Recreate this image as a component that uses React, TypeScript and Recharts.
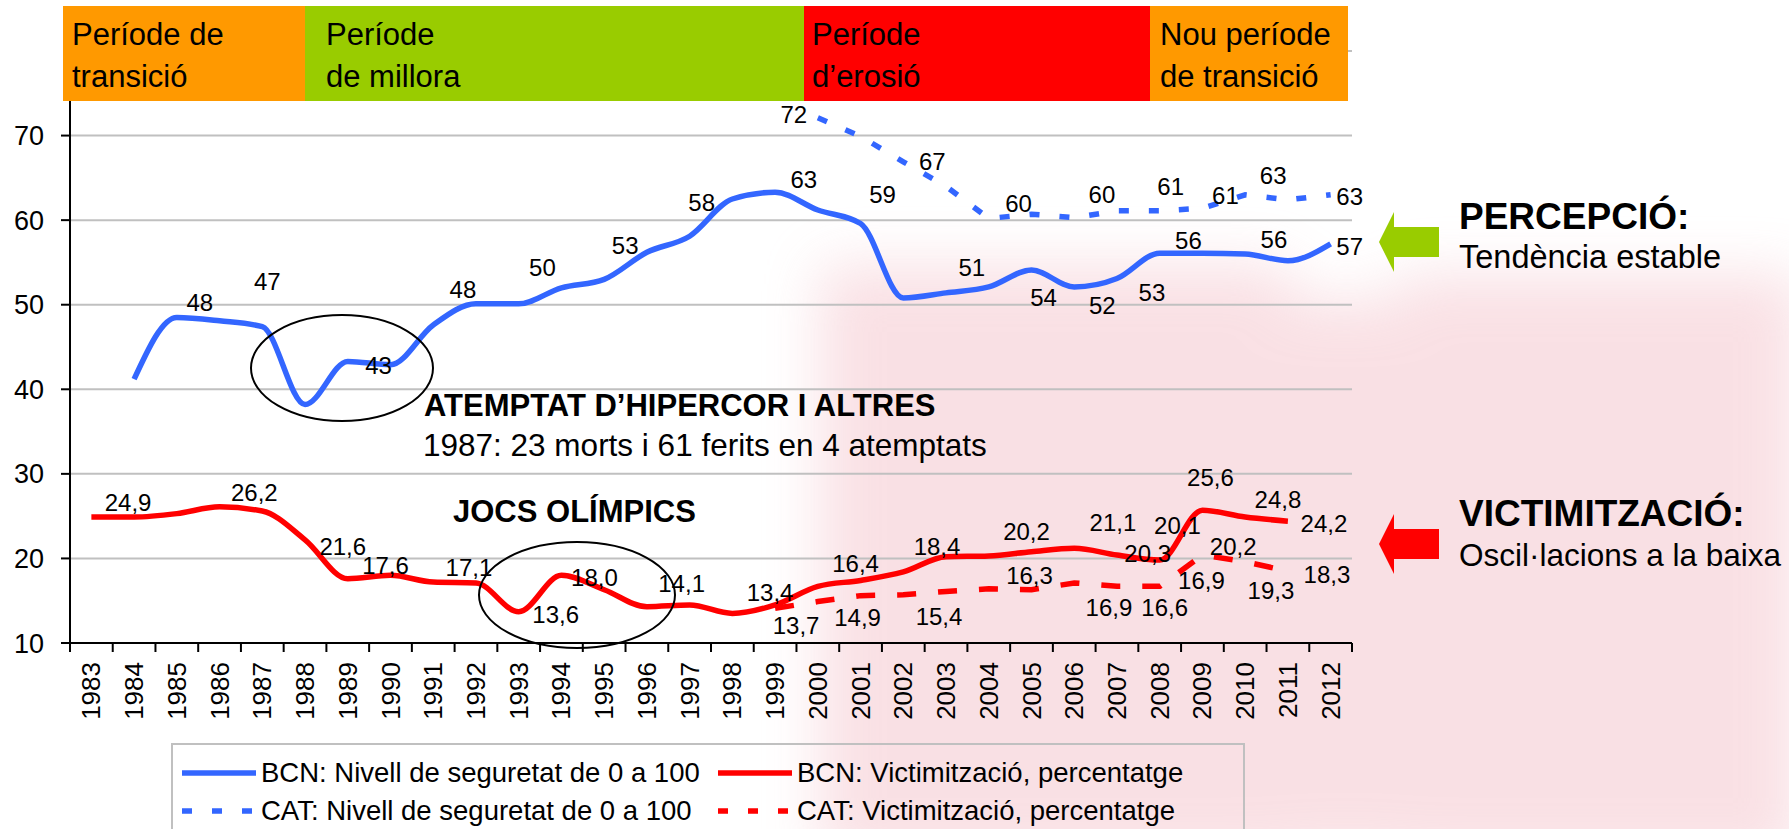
import React from 'react';
import { LineChart, Line, XAxis, YAxis, CartesianGrid } from 'recharts';

// Anys de l'enquesta
const YEARS = [
  1983, 1984, 1985, 1986, 1987, 1988, 1989, 1990, 1991, 1992,
  1993, 1994, 1995, 1996, 1997, 1998, 1999, 2000, 2001, 2002,
  2003, 2004, 2005, 2006, 2007, 2008, 2009, 2010, 2011, 2012,
];

// Corbes llegides del gràfic (valors aproximats)
const BCN_SEGURETAT = [
  null, 41.2, 48.5, 48.1, 47.4, 38.2, 43.3, 42.9, 47.6, 50.1,
  50.1, 52.0, 53.0, 56.2, 58.1, 62.5, 63.3, 61.2, 59.6, 50.8,
  51.4, 52.1, 54.1, 52.1, 53.1, 56.1, 56.1, 56.0, 55.2, 57.2,
];
const CAT_SEGURETAT = [
  null, null, null, null, null, null, null, null, null, null,
  null, null, null, null, null, null, null, 72.1, 69.9, 66.9,
  64.0, 60.2, 60.7, 60.3, 61.1, 61.1, 61.4, 63.0, 62.4, 63.0,
];
const BCN_VICTIMITZACIO = [
  24.9, 24.9, 25.3, 26.1, 25.6, 22.2, 17.6, 18.0, 17.2, 17.1,
  13.7, 18.0, 16.3, 14.3, 14.5, 13.5, 14.5, 16.7, 17.4, 18.4,
  20.2, 20.3, 20.8, 21.2, 20.4, 19.8, 25.7, 24.9, 24.4, null,
];
const CAT_VICTIMITZACIO = [
  null, null, null, null, null, null, null, null, null, null,
  null, null, null, null, null, null, 14.1, 14.9, 15.6, 15.7,
  16.1, 16.4, 16.3, 17.1, 16.7, 16.7, 20.4, 19.6, 18.5, null,
];

// Etiquetes de dades tal com apareixen al gràfic
const BCN_SEGURETAT_LABELS = [
  { year: 1985, text: '48' }, { year: 1987, text: '47' }, { year: 1990, text: '43' },
  { year: 1992, text: '48' }, { year: 1994, text: '50' }, { year: 1995, text: '53' },
  { year: 1997, text: '58' }, { year: 2000, text: '63' }, { year: 2001, text: '59' },
  { year: 2004, text: '51' }, { year: 2005, text: '54' }, { year: 2006, text: '52' },
  { year: 2007, text: '53' }, { year: 2009, text: '56' }, { year: 2011, text: '56' },
  { year: 2012, text: '57' },
];
const CAT_SEGURETAT_LABELS = [
  { year: 2000, text: '72' }, { year: 2002, text: '67' }, { year: 2005, text: '60' },
  { year: 2007, text: '60' }, { year: 2008, text: '61' }, { year: 2009, text: '61' },
  { year: 2010, text: '63' }, { year: 2012, text: '63' },
];
const BCN_VICTIMITZACIO_LABELS = [
  { year: 1984, text: '24,9' }, { year: 1987, text: '26,2' }, { year: 1989, text: '21,6' },
  { year: 1990, text: '17,6' }, { year: 1992, text: '17,1' }, { year: 1993, text: '13,6' },
  { year: 1994, text: '18,0' }, { year: 1997, text: '14,1' }, { year: 1999, text: '13,4' },
  { year: 2001, text: '16,4' }, { year: 2003, text: '18,4' }, { year: 2005, text: '20,2' },
  { year: 2007, text: '21,1' }, { year: 2008, text: '20,3' }, { year: 2009, text: '20,1' },
  { year: 2009, text: '25,6' }, { year: 2011, text: '24,8' }, { year: 2011, text: '24,2' },
];
const CAT_VICTIMITZACIO_LABELS = [
  { year: 1999, text: '13,7' }, { year: 2001, text: '14,9' }, { year: 2003, text: '15,4' },
  { year: 2005, text: '16,3' }, { year: 2007, text: '16,9' }, { year: 2008, text: '16,6' },
  { year: 2009, text: '16,9' }, { year: 2010, text: '20,2' }, { year: 2011, text: '19,3' },
  { year: 2011, text: '18,3' },
];

const Y_TICKS = [10, 20, 30, 40, 50, 60, 70];

const PERIODS = [
  { lines: ['Període de', 'transició'], color: '#FF9900' },
  { lines: ['Període', 'de millora'], color: '#99CC00' },
  { lines: ['Període', 'd’erosió'], color: '#FF0000' },
  { lines: ['Nou període', 'de transició'], color: '#FF9900' },
];

const SERIES = [
  { key: 'bcnSeg', name: 'BCN: Nivell de seguretat de 0 a 100', color: '#3366FF', dash: undefined, type: 'monotone' },
  { key: 'bcnVic', name: 'BCN: Victimització, percentatge', color: '#FF0000', dash: undefined, type: 'monotone' },
  { key: 'catSeg', name: 'CAT: Nivell de seguretat de 0 a 100', color: '#3366FF', dash: '10 20', type: 'linear' },
  { key: 'catVic', name: 'CAT: Victimització, percentatge', color: '#FF0000', dash: '19 22', type: 'linear' },
];

// ---- layout (píxels) ----
const W = 1789;
const H = 829;
const FONT = '"Liberation Sans", Arial, Helvetica, sans-serif';

// desplaçament de cada etiqueta respecte al seu punt
const OFFSETS: Record<string, number[][]> = {
  bcnSeg: [[23, -15], [5, -45], [-12, 1], [-13, -14], [-19, -20], [21, -34], [12, -34], [-14, -30],
    [22, -29], [-17, -19], [12, 27], [28, 19], [35, 14], [-14, -13], [-14, -21], [19, 3]],
  catSeg: [[-24, -3], [29, 0], [-13, -11], [-15, -16], [11, -24], [23, -13], [28, -19], [19, 2]],
  bcnVic: [[-6, -14], [-8, -19], [-5, -32], [-5, -10], [-7, -15], [37, 3], [33, 2], [-8, -21],
    [-5, -12], [-5, -17], [-9, -10], [-5, -20], [-4, -33], [-12, -7], [-25, 15], [8, -33],
    [-10, -22], [36, 2]],
  catVic: [[21, 17], [-3, 22], [-7, 25], [-2, -14], [-8, 21], [5, 21], [-1, 25], [-12, -15],
    [-17, 19], [39, 3]],
};
const PERIOD_BOXES = [
  { left: 63, width: 242, pad: 9 },
  { left: 305, width: 499, pad: 21 },
  { left: 804, width: 346, pad: 8 },
  { left: 1150, width: 198, pad: 10 },
];

const data = YEARS.map((year, i) => ({
  year,
  bcnSeg: BCN_SEGURETAT[i],
  catSeg: CAT_SEGURETAT[i],
  bcnVic: BCN_VICTIMITZACIO[i],
  catVic: CAT_VICTIMITZACIO[i],
}));

const X_TICKS = [YEARS[0] - 0.5, ...YEARS.flatMap((y) => [y, y + 0.5])];

const labelsFor: Record<string, { year: number; text: string }[]> = {
  bcnSeg: BCN_SEGURETAT_LABELS,
  catSeg: CAT_SEGURETAT_LABELS,
  bcnVic: BCN_VICTIMITZACIO_LABELS,
  catVic: CAT_VICTIMITZACIO_LABELS,
};

const makeLabelDot = (key: string) => (props: any) => {
  const { cx, cy, payload, index } = props;
  const list = labelsFor[key]
    .map((l, i) => ({ ...l, off: OFFSETS[key][i] }))
    .filter((l) => payload && l.year === payload.year);
  if (!list.length || cy == null || isNaN(cy)) return <g key={`lbl-${key}-${index}`} />;
  return (
    <g key={`lbl-${key}-${index}`}>
      {list.map((l, j) => (
        <text
          key={j}
          x={cx + l.off[0]}
          y={cy + l.off[1]}
          textAnchor="middle"
          dominantBaseline="central"
          fontSize={24}
          fontFamily={FONT}
          fill="#000"
        >
          {l.text}
        </text>
      ))}
    </g>
  );
};

const YearTick = (props: any) => {
  const { x, y, payload } = props;
  const v = payload.value;
  if (!Number.isInteger(v)) {
    return <line x1={x} y1={y} x2={x} y2={y + 9} stroke="#000" strokeWidth={2} />;
  }
  return (
    <text
      x={x}
      y={y + 19}
      transform={`rotate(-90 ${x} ${y + 19})`}
      textAnchor="end"
      dominantBaseline="central"
      fontSize={26}
      fontFamily={FONT}
      fill="#000"
    >
      {v}
    </text>
  );
};

const Arrow = ({ y, color }: { y: number; color: string }) => (
  <polygon
    points={`1379,${y} 1394,${y - 30} 1394,${y - 15} 1439,${y - 15} 1439,${y + 15} 1394,${y + 15} 1394,${y + 30}`}
    fill={color}
  />
);

const App: React.FC = () => {
  return (
    <div
      style={{
        position: 'absolute',
        left: 0,
        top: 0,
        width: W,
        height: H,
        overflow: 'hidden',
        background: '#fff',
        fontFamily: FONT,
      }}
    >
      {/* marca d'aigua de fons, molt difuminada */}
      <svg
        width={W}
        height={H}
        style={{ position: 'absolute', left: 0, top: 0, pointerEvents: 'none' }}
      >
        <defs>
          <filter id="blur" x="-20%" y="-20%" width="140%" height="140%">
            <feGaussianBlur stdDeviation={28} />
          </filter>
        </defs>
        <g filter="url(#blur)" fill="#F3BCC5" opacity={0.45}>
          <rect x={820} y={265} width={470} height={600} />
          <rect x={1290} y={300} width={110} height={560} />
          <rect x={1400} y={275} width={400} height={590} />
        </g>
      </svg>

      <LineChart
        width={W}
        height={H}
        data={data}
        margin={{ top: 51, right: 437, left: 10, bottom: 116 }}
      >
        <CartesianGrid vertical={false} stroke="#c0c0c0" strokeWidth={2} />
        <XAxis
          dataKey="year"
          type="number"
          domain={[YEARS[0] - 0.5, YEARS[YEARS.length - 1] + 0.5]}
          ticks={X_TICKS}
          interval={0}
          tickLine={false}
          tickSize={0}
          tickMargin={0}
          height={70}
          axisLine={{ stroke: '#000', strokeWidth: 2 }}
          tick={<YearTick />}
        />
        <YAxis
          type="number"
          domain={[10, 80]}
          ticks={Y_TICKS}
          interval={0}
          width={60}
          tickSize={9}
          tickMargin={17}
          axisLine={{ stroke: '#000', strokeWidth: 2 }}
          tickLine={{ stroke: '#000', strokeWidth: 2 }}
          tick={{ fontSize: 27, fill: '#000', fontFamily: FONT }}
        />
        {SERIES.map((s) => (
          <Line
            key={s.key}
            dataKey={s.key}
            name={s.name}
            type={s.type as any}
            stroke={s.color}
            strokeWidth={5.5}
            strokeDasharray={s.dash}
            dot={makeLabelDot(s.key)}
            activeDot={false}
            connectNulls={false}
            isAnimationActive={false}
          />
        ))}
      </LineChart>

      {/* franja de períodes */}
      {PERIODS.map((p, i) => (
        <div
          key={i}
          style={{
            position: 'absolute',
            left: PERIOD_BOXES[i].left,
            top: 6,
            width: PERIOD_BOXES[i].width,
            height: 95,
            background: p.color,
            boxSizing: 'border-box',
            paddingLeft: PERIOD_BOXES[i].pad,
            paddingTop: 8,
            fontSize: 31,
            lineHeight: '42px',
            color: '#000',
            whiteSpace: 'nowrap',
          }}
        >
          {p.lines.map((t, j) => (
            <div key={j}>{t}</div>
          ))}
        </div>
      ))}

      {/* el·lipses, fletxes i textos */}
      <svg
        width={W}
        height={H}
        style={{ position: 'absolute', left: 0, top: 0, pointerEvents: 'none' }}
      >
        <ellipse cx={342} cy={368} rx={91} ry={53} fill="none" stroke="#000" strokeWidth={2} />
        <ellipse cx={577} cy={595} rx={98} ry={53} fill="none" stroke="#000" strokeWidth={2} />
        <Arrow y={242} color="#99CC00" />
        <Arrow y={544} color="#FF0000" />
        <text x={424} y={405} fontSize={31} fontWeight="bold" dominantBaseline="central" fontFamily={FONT}>
          ATEMPTAT D’HIPERCOR I ALTRES
        </text>
        <text x={423} y={445} fontSize={31.5} dominantBaseline="central" fontFamily={FONT}>
          1987: 23 morts i 61 ferits en 4 atemptats
        </text>
        <text x={453} y={511} fontSize={31} fontWeight="bold" dominantBaseline="central" fontFamily={FONT}>
          JOCS OLÍMPICS
        </text>
        <text x={1459} y={216} fontSize={37} fontWeight="bold" dominantBaseline="central" fontFamily={FONT}>
          PERCEPCIÓ:
        </text>
        <text x={1459} y={257} fontSize={32.5} dominantBaseline="central" fontFamily={FONT}>
          Tendència estable
        </text>
        <text x={1459} y={513} fontSize={37} fontWeight="bold" dominantBaseline="central" fontFamily={FONT}>
          VICTIMITZACIÓ:
        </text>
        <text x={1459} y={555} fontSize={31.5} dominantBaseline="central" fontFamily={FONT}>
          Oscil·lacions a la baixa
        </text>
      </svg>

      {/* llegenda */}
      <div
        style={{
          position: 'absolute',
          left: 171,
          top: 743,
          width: 1074,
          height: 110,
          border: '2px solid #c0c0c0',
          boxSizing: 'border-box',
        }}
      >
        {[SERIES[0], SERIES[1], SERIES[2], SERIES[3]].map((s, i) => {
          const col = i % 2;
          const row = Math.floor(i / 2);
          return (
            <div
              key={s.key}
              style={{
                position: 'absolute',
                left: 9 + col * 536,
                top: 9 + row * 38,
                height: 38,
                display: 'flex',
                alignItems: 'center',
                whiteSpace: 'nowrap',
                fontSize: 27.5,
              }}
            >
              <svg width={74} height={10} style={{ marginRight: 5 }}>
                <line
                  x1={0}
                  y1={5}
                  x2={74}
                  y2={5}
                  stroke={s.color}
                  strokeWidth={5.5}
                  strokeDasharray={s.dash ? '10 20' : undefined}
                />
              </svg>
              <span>{s.name}</span>
            </div>
          );
        })}
      </div>
    </div>
  );
};

export default App;
